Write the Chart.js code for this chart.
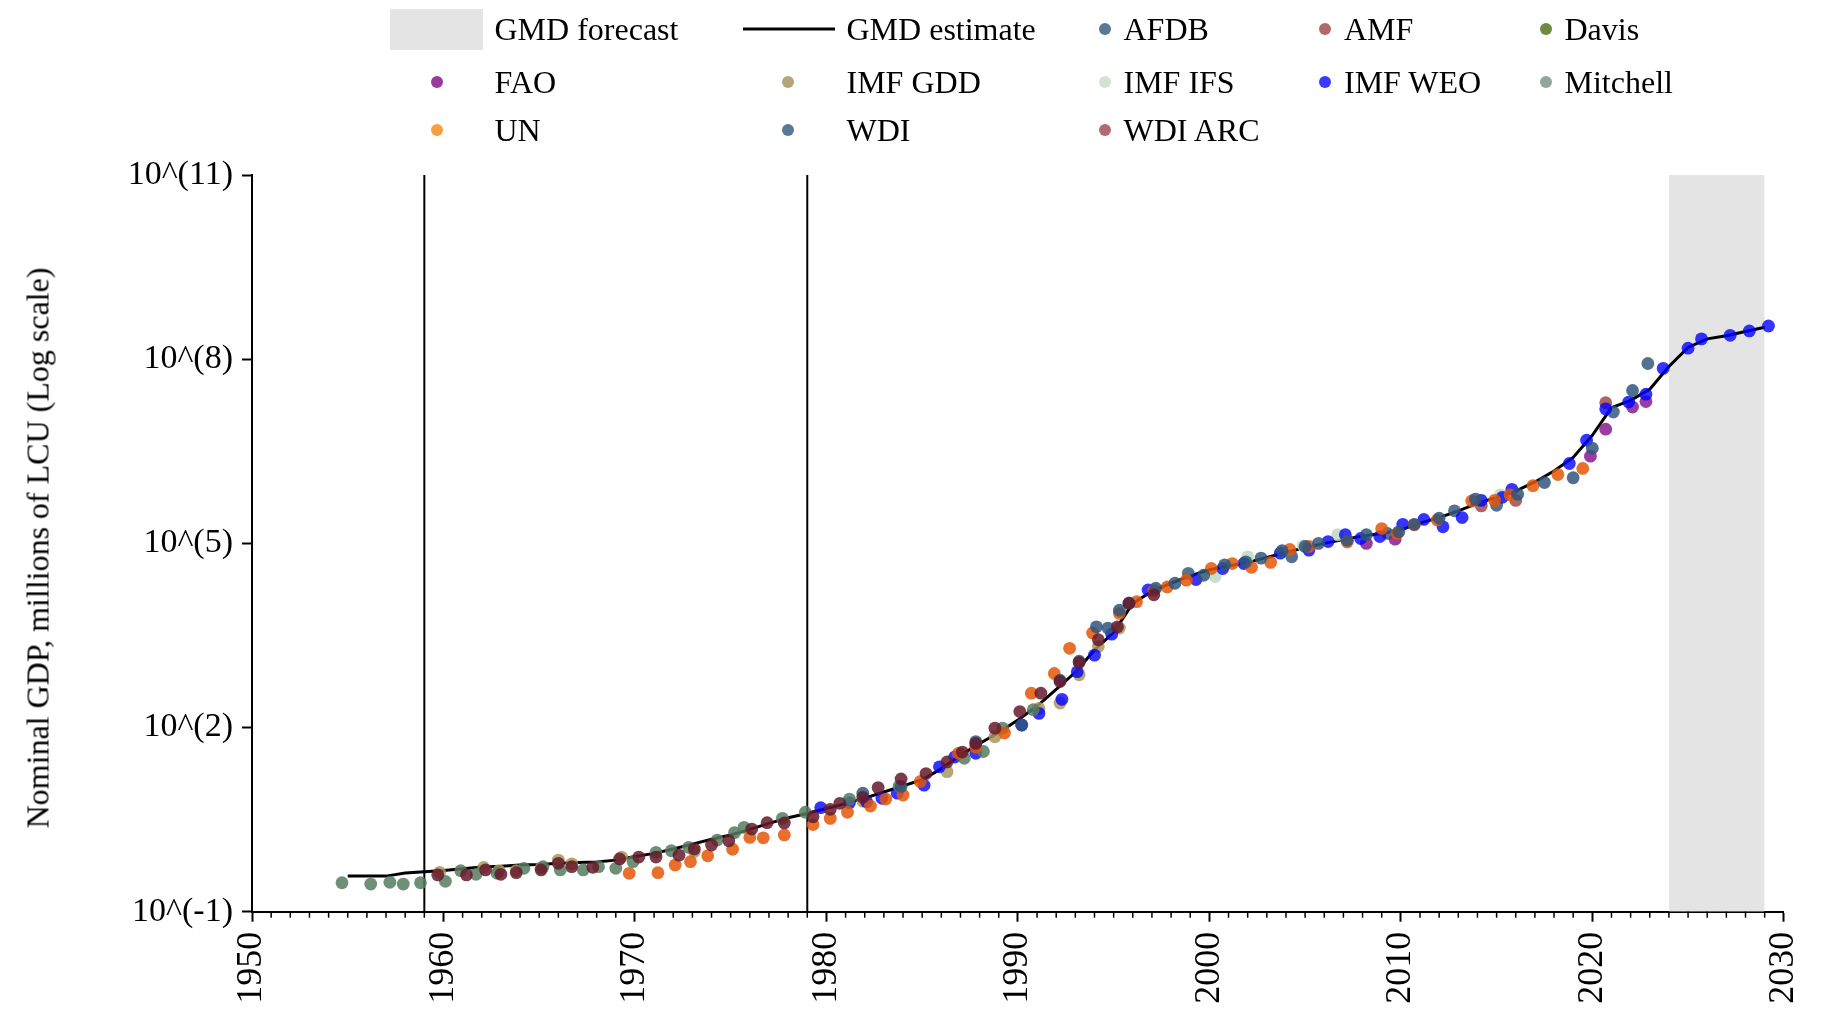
<!DOCTYPE html>
<html>
<head>
<meta charset="utf-8">
<script src="https://cdn.jsdelivr.net/npm/chart.js@4.4.0/dist/chart.umd.min.js"></script>
<style>
    body { margin: 0; background: #fff; }
    #wrap { position: relative; width: 1837px; height: 1017px; }
    #gdp_chart { position: absolute; left: 0; top: 0; }
    .lg { position: absolute; font-family: 'Liberation Serif', serif; font-size: 32px; color: #000;
          transform: translateY(-50%); white-space: nowrap; line-height: 1; }
    .lg-dot { position: absolute; width: 12px; height: 12px; border-radius: 50%; transform: translate(-50%, -50%); }
    .lg-box { position: absolute; background: #e4e4e4; }
    .lg-line { position: absolute; height: 3px; background: #000; transform: translateY(-50%); }
    #ytitle { position: absolute; left: 38px; top: 548px; font-family: 'Liberation Serif', serif; font-size: 32px;
              white-space: nowrap; transform: translate(-50%, -50%) rotate(-90deg); }
</style>
</head>
<body>
<div id="wrap">
    <canvas id="gdp_chart" width="1837" height="1017"></canvas>
    <div id="legend"></div>
    <div id="ytitle">Nominal GDP, millions of LCU (Log scale)</div>
</div>
<script>
// axis ticks
const yTickValues = [1e-1, 1e2, 1e5, 1e8, 1e11];
const yTickLabels = ['10^(-1)', '10^(2)', '10^(5)', '10^(8)', '10^(11)'];
const xTickYears = [1950, 1960, 1970, 1980, 1990, 2000, 2010, 2020, 2030];

// marked years and forecast window
const markerYears = [1959, 1979];
const forecastYears = [2024, 2029];

// GMD estimate
const gmdYears = [1955, 1956, 1957, 1958, 1959, 1960, 1961, 1962, 1963, 1964, 1965, 1966, 1967, 1968, 1969,
    1970, 1971, 1972, 1973, 1974, 1975, 1976, 1977, 1978, 1979, 1980, 1981, 1982, 1983, 1984, 1985, 1986,
    1987, 1988, 1989, 1990, 1991, 1992, 1993, 1994, 1995, 1996, 1997, 1998, 1999, 2000, 2001, 2002, 2003,
    2004, 2005, 2006, 2007, 2008, 2009, 2010, 2011, 2012, 2013, 2014, 2015, 2016, 2017, 2018, 2019, 2020,
    2021, 2022, 2023, 2024, 2025, 2026, 2027, 2028, 2029];
const gmdValues = [0.380, 0.380, 0.380, 0.427, 0.447, 0.468, 0.501, 0.537, 0.550, 0.575, 0.589, 0.617, 0.631, 0.646, 0.692,
    0.794, 0.891, 1.05, 1.26, 1.51, 1.78, 2.19, 2.75, 3.39, 3.98, 4.79, 5.75, 7.08, 8.91, 11.2, 14.1, 21.4,
    35.5, 55.0, 83.2, 132, 224, 417, 794, 1820, 3550, 10500, 16600, 22400, 29500, 37200, 42700, 49000, 58900,
    70800, 85100, 100000, 115000, 132000, 145000, 166000, 214000, 263000, 339000, 447000, 562000, 708000, 1.0e6, 1.51e6, 2.51e6, 5.75e6,
    1.62e7, 2.14e7, 3.24e7, 7.59e7, 1.55e8, 2.14e8, 2.40e8, 2.82e8, 3.31e8];

// sources (years as plotted, values in millions of LCU)
const afdbYears = [1998.9, 2004.3, 2009.3, 2012.8, 2015.0, 2021.1, 2022.9];
const afdbValues = [32400, 60300, 145000, 339000, 417000, 1.38e7, 8.51e7];

const amfYears = [2014.2, 2016.0, 2020.7];
const amfValues = [407000, 501000, 1.95e7];

const davisYears = [];
const davisValues = [];

const faoYears = [2008.2, 2009.7, 2019.9, 2020.7, 2022.1, 2022.8];
const faoValues = [100000, 117000, 2.63e6, 7.24e6, 1.66e7, 2.04e7];

const imfGddYears = [1959.8, 1962.1, 1962.9, 1963.8, 1965.1, 1966.0, 1966.7, 1969.3, 1973.1, 1981.9, 1986.3, 1988.8,
    1991.1, 1992.2, 1993.2, 1994.2, 1995.3];
const imfGddValues = [0.437, 0.525, 0.468, 0.468, 0.513, 0.692, 0.603, 0.776, 0.955, 6.31, 19.1, 70.8,
    204, 251, 724, 2090, 4170];

const imfIfsYears = [2000.3, 2002.0, 2004.9, 2006.7, 2015.2];
const imfIfsValues = [28800, 60300, 91200, 138000, 617000];

const imfWeoYears = [1979.7, 1981.2, 1982.1, 1982.9, 1983.7, 1985.1, 1985.9, 1986.7, 1987.8, 1990.2, 1991.1, 1992.3,
    1993.1, 1994.0, 1994.9, 1996.8, 1999.3, 2000.7, 2001.8, 2003.7, 2005.2, 2006.2, 2007.1, 2007.9, 2008.9, 2010.1,
    2011.2, 2012.2, 2013.2, 2014.2, 2015.3, 2015.8, 2018.8, 2019.7, 2020.7, 2021.9, 2022.8, 2023.7, 2025.0, 2025.7,
    2027.2, 2028.2, 2029.2];
const imfWeoValues = [4.94, 5.96, 6.17, 7.03, 8.51, 11.5, 22.9, 33.1, 38.0, 110, 170, 288,
    813, 1510, 3310, 17400, 25700, 38900, 46800, 69200, 77600, 107000, 138000, 120000, 129000, 204000,
    245000, 186000, 263000, 501000, 562000, 759000, 2.0e6, 4.79e6, 1.55e7, 2.0e7, 2.69e7, 7.08e7, 1.51e8, 2.14e8,
    2.45e8, 2.88e8, 3.47e8];

const mitchellYears = [1954.7, 1956.2, 1957.2, 1957.9, 1958.8, 1960.1, 1960.9, 1961.7, 1962.8, 1964.2, 1965.2, 1966.1,
    1967.3, 1968.1, 1969.0, 1969.9, 1971.1, 1971.9, 1972.8, 1974.3, 1975.2, 1975.7, 1977.7, 1978.9, 1981.2, 1983.8,
    1987.2, 1988.2, 1989.2, 1990.8];
const mitchellValues = [0.296, 0.282, 0.302, 0.282, 0.296, 0.313, 0.466, 0.407, 0.422, 0.509, 0.541, 0.479,
    0.479, 0.541, 0.509, 0.652, 0.927, 0.984, 1.12, 1.47, 1.94, 2.37, 3.31, 4.17, 6.84, 11.1,
    31.6, 40.7, 97.7, 195];

const unYears = [1969.7, 1971.2, 1972.1, 1972.9, 1973.8, 1975.1, 1976.0, 1976.7, 1977.8, 1979.3, 1980.2, 1981.1,
    1982.3, 1983.1, 1984.0, 1984.9, 1986.9, 1987.8, 1989.3, 1990.7, 1991.9, 1992.7, 1993.9, 1995.3, 1996.2, 1997.1,
    1997.8, 1998.8, 2000.1, 2001.2, 2002.2, 2003.2, 2004.2, 2005.2, 2007.2, 2009.0, 2009.8, 2010.7, 2011.9, 2013.7,
    2014.9, 2015.7, 2016.9, 2018.2, 2019.5];
const unValues = [0.422, 0.432, 0.575, 0.652, 0.813, 1.04, 1.62, 1.60, 1.78, 2.63, 3.31, 4.17,
    5.25, 6.84, 7.94, 13.2, 38.0, 47.9, 81.3, 363, 759, 1950, 3470, 7240, 11200, 17000,
    19500, 25100, 38900, 46800, 40700, 49000, 79400, 89100, 105000, 174000, 145000, 200000, 240000, 490000,
    501000, 617000, 871000, 1.32e6, 1.66e6];

const wdiYears = [1981.9, 1983.9, 1987.8, 1990.2, 1992.2, 1993.2, 1994.1, 1994.7, 1995.3, 1995.8, 1997.2, 1998.2,
    1999.7, 2000.8, 2001.9, 2002.7, 2003.8, 2005.0, 2005.7, 2007.2, 2008.2, 2009.9, 2010.7, 2012.0, 2013.9, 2016.1,
    2017.5, 2019.0, 2020.0, 2022.1];
const wdiValues = [8.51, 11.0, 58.9, 110, 589, 1200, 4370, 4170, 8130, 10700, 18600, 22400,
    30200, 44700, 50100, 57500, 75900, 89100, 100000, 112000, 138000, 155000, 204000, 257000, 525000, 631000,
    977000, 1.17e6, 3.55e6, 3.09e7];

const wdiArcYears = [1959.7, 1961.2, 1962.2, 1963.0, 1963.8, 1965.1, 1966.0, 1966.7, 1967.8, 1969.2, 1970.2, 1971.1,
    1972.3, 1973.1, 1974.0, 1974.9, 1976.1, 1976.9, 1977.8, 1979.3, 1980.2, 1980.7, 1981.9, 1982.7, 1983.9, 1985.2,
    1986.3, 1987.1, 1987.8, 1988.8, 1990.1, 1991.2, 1992.2, 1993.2, 1994.2, 1995.2, 1995.8, 1997.1];
const wdiArcValues = [0.398, 0.398, 0.479, 0.407, 0.432, 0.479, 0.614, 0.541, 0.528, 0.724, 0.776, 0.776,
    0.832, 1.05, 1.22, 1.43, 2.22, 2.82, 2.79, 3.52, 4.65, 5.82, 7.29, 10.5, 14.5, 17.8,
    27.5, 39.8, 55.0, 97.7, 182, 363, 562, 1150, 2690, 4370, 10500, 14500];

// colours: [point colour, legend colour]
const sourceStyle = {
    'AFDB':     ['rgba(55,91,126,0.85)',  '#587898'],
    'AMF':      ['rgba(162,73,73,0.85)',  '#b06a6a'],
    'Davis':    ['rgba(85,120,26,0.85)',  '#6e8b3d'],
    'FAO':      ['rgba(137,26,143,0.85)', '#9a3a9a'],
    'IMF GDD':  ['rgba(173,149,90,0.85)', '#b5a57a'],
    'IMF IFS':  ['rgba(190,216,190,0.85)', '#d0e5d0'],
    'IMF WEO':  ['rgba(2,2,255,0.8)',     '#3a3aff'],
    'Mitchell': ['rgba(86,124,96,0.85)',  '#8fa89a'],
    'UN':       ['rgba(228,87,7,0.85)',   '#f5a040'],
    'WDI':      ['rgba(47,86,123,0.85)',  '#587898'],
    'WDI ARC':  ['rgba(102,26,43,0.85)',  '#b06a70'],
};

const sources = [
    ['AFDB', afdbYears, afdbValues],
    ['AMF', amfYears, amfValues],
    ['Davis', davisYears, davisValues],
    ['FAO', faoYears, faoValues],
    ['IMF GDD', imfGddYears, imfGddValues],
    ['IMF IFS', imfIfsYears, imfIfsValues],
    ['IMF WEO', imfWeoYears, imfWeoValues],
    ['Mitchell', mitchellYears, mitchellValues],
    ['UN', unYears, unValues],
    ['WDI', wdiYears, wdiValues],
    ['WDI ARC', wdiArcYears, wdiArcValues],
];

function toPoints(xs, ys) {
    return xs.map((x, i) => ({ x: x, y: ys[i] }));
}

// minor yearly ticks under the x axis
const minorTicks = {
    id: 'minorTicks',
    afterDraw(chart) {
        const xs = chart.scales.x;
        const ctx = chart.ctx;
        const y0 = chart.chartArea.bottom;
        ctx.save();
        ctx.strokeStyle = '#000';
        ctx.lineWidth = 1.5;
        for (let yr = xs.min; yr <= xs.max; yr++) {
            if (xTickYears.includes(yr)) continue;
            const px = xs.getPixelForValue(yr);
            ctx.beginPath();
            ctx.moveTo(px, y0);
            ctx.lineTo(px, y0 + 6);
            ctx.stroke();
        }
        ctx.restore();
    }
};

function fnGdpChart() {
    const datasets = [];

    datasets.push({
        type: 'line',
        label: 'GMD forecast',
        data: [{ x: forecastYears[0], y: 1e11 }, { x: forecastYears[1], y: 1e11 }],
        borderWidth: 0,
        pointRadius: 0,
        fill: 'start',
        backgroundColor: '#e4e4e4',
        order: 100,
    });

    markerYears.forEach(yr => {
        datasets.push({
            type: 'line',
            label: 'marker ' + yr,
            data: [{ x: yr, y: 1e-1 }, { x: yr, y: 1e11 }],
            borderColor: '#000',
            borderWidth: 2,
            pointRadius: 0,
            order: 90,
        });
    });

    datasets.push({
        type: 'line',
        label: 'GMD estimate',
        data: toPoints(gmdYears, gmdValues),
        borderColor: '#000',
        borderWidth: 3,
        pointRadius: 0,
        tension: 0,
        order: 80,
    });

    sources.forEach(([name, xs, ys], i) => {
        datasets.push({
            type: 'scatter',
            label: name,
            data: toPoints(xs, ys),
            backgroundColor: sourceStyle[name][0],
            borderWidth: 0,
            pointRadius: 6.4,
            order: sources.length - i,
        });
    });

    const ctx = document.getElementById('gdp_chart').getContext('2d');
    new Chart(ctx, {
        type: 'scatter',
        data: { datasets: datasets },
        plugins: [minorTicks],
        options: {
            responsive: false,
            animation: false,
            devicePixelRatio: 1,
            layout: { padding: { top: 175, right: 22.5, bottom: 0, left: 0 } },
            plugins: { legend: { display: false }, tooltip: { enabled: false } },
            scales: {
                x: {
                    type: 'linear',
                    min: 1950,
                    max: 2030,
                    afterBuildTicks: scale => { scale.ticks = xTickYears.map(v => ({ value: v })); },
                    afterFit: scale => { scale.height = 105.3; },
                    grid: { drawOnChartArea: false, drawTicks: true, tickLength: 10, tickWidth: 2, tickColor: '#000' },
                    border: { display: true, color: '#000', width: 2 },
                    ticks: {
                        color: '#000',
                        font: { family: 'Liberation Serif', size: 36 },
                        minRotation: 90,
                        maxRotation: 90,
                        padding: 10,
                        callback: v => String(v),
                    }
                },
                y: {
                    type: 'logarithmic',
                    min: 1e-1,
                    max: 1e11,
                    afterBuildTicks: scale => { scale.ticks = yTickValues.map(v => ({ value: v })); },
                    afterFit: scale => { scale.width = 252; },
                    grid: { drawOnChartArea: false, drawTicks: true, tickLength: 10, tickWidth: 2, tickColor: '#000' },
                    border: { display: true, color: '#000', width: 2 },
                    ticks: {
                        color: '#000',
                        font: { family: 'Liberation Serif', size: 34 },
                        padding: 9,
                        callback: v => {
                            const i = yTickValues.findIndex(t => Math.abs(Math.log10(t) - Math.log10(v)) < 1e-6);
                            return i >= 0 ? yTickLabels[i] : '';
                        }
                    }
                }
            }
        }
    });
}

// legend drawn as html text
function fnLegend() {
    const legend = document.getElementById('legend');
    const rows = [29, 81.5, 130];
    const items = [
        { kind: 'box', name: 'GMD forecast', row: 0, mx: 390, tx: 494.5 },
        { kind: 'line', name: 'GMD estimate', row: 0, mx: 743, tx: 846.5 },
        { kind: 'dot', name: 'AFDB', row: 0, mx: 1104.5, tx: 1123.5 },
        { kind: 'dot', name: 'AMF', row: 0, mx: 1325, tx: 1344 },
        { kind: 'dot', name: 'Davis', row: 0, mx: 1545.5, tx: 1564.5 },
        { kind: 'dot', name: 'FAO', row: 1, mx: 437, tx: 494.5 },
        { kind: 'dot', name: 'IMF GDD', row: 1, mx: 788, tx: 846.5 },
        { kind: 'dot', name: 'IMF IFS', row: 1, mx: 1104.5, tx: 1123.5 },
        { kind: 'dot', name: 'IMF WEO', row: 1, mx: 1325, tx: 1344 },
        { kind: 'dot', name: 'Mitchell', row: 1, mx: 1545.5, tx: 1564.5 },
        { kind: 'dot', name: 'UN', row: 2, mx: 437, tx: 494.5 },
        { kind: 'dot', name: 'WDI', row: 2, mx: 788, tx: 846.5 },
        { kind: 'dot', name: 'WDI ARC', row: 2, mx: 1104.5, tx: 1123.5 },
    ];
    items.forEach(it => {
        const cy = rows[it.row];
        const mark = document.createElement('div');
        if (it.kind === 'box') {
            mark.className = 'lg-box';
            mark.style.left = it.mx + 'px';
            mark.style.top = (cy - 20.5) + 'px';
            mark.style.width = '93px';
            mark.style.height = '41px';
        } else if (it.kind === 'line') {
            mark.className = 'lg-line';
            mark.style.left = it.mx + 'px';
            mark.style.top = cy + 'px';
            mark.style.width = '92px';
        } else {
            mark.className = 'lg-dot';
            mark.style.left = it.mx + 'px';
            mark.style.top = cy + 'px';
            mark.style.background = sourceStyle[it.name][1];
        }
        legend.appendChild(mark);
        const txt = document.createElement('div');
        txt.className = 'lg';
        txt.style.left = it.tx + 'px';
        txt.style.top = cy + 'px';
        txt.textContent = it.name;
        legend.appendChild(txt);
    });
}

fnGdpChart();
fnLegend();
</script>
</body>
</html>
